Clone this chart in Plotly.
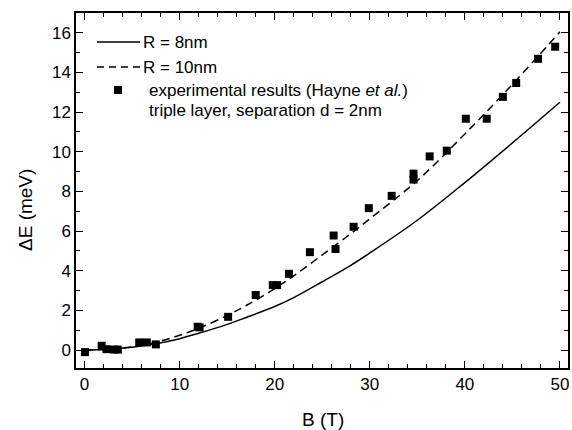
import plotly.graph_objects as go

# Experimental data (Hayne et al.)
b_exp = [0.05, 1.8, 2.3, 3.1, 3.5, 5.75, 6.55, 7.5, 11.9, 12.1, 15.1, 18.0, 19.8, 20.25, 21.5,
         23.7, 26.2, 26.4, 28.3, 29.9, 32.3, 34.6, 34.6, 36.3, 38.1, 40.1, 42.3, 44.0, 45.4, 47.7, 49.5]
e_exp = [-0.1, 0.22, 0.05, 0.03, 0.03, 0.39, 0.39, 0.29, 1.18, 1.15, 1.68, 2.78, 3.28, 3.28, 3.85,
         4.94, 5.78, 5.1, 6.22, 7.16, 7.78, 8.6, 8.9, 9.77, 10.06, 11.67, 11.67, 12.77, 13.47, 14.69, 15.3]

# Theory curves
b_th = [0, 2.5, 5, 7.5, 10, 12, 15, 17, 20, 22, 25, 28, 30, 35, 40, 45, 50]
e_r8 = [0, 0.05, 0.15, 0.32, 0.58, 0.85, 1.3, 1.65, 2.2, 2.65, 3.45, 4.28, 4.9, 6.55, 8.45, 10.45, 12.5]
e_r10 = [0, 0.05, 0.17, 0.4, 0.75, 1.1, 1.75, 2.25, 3.1, 3.75, 4.8, 5.87, 6.62, 8.55, 10.9, 13.4, 16.05]

x_ticks = [0, 10, 20, 30, 40, 50]
y_ticks = [0, 2, 4, 6, 8, 10, 12, 14, 16]

legend_labels = ["R = 8nm", "R = 10nm",
                 "experimental results (Hayne <i>et al.</i>)",
                 "triple layer, separation d = 2nm"]

FONT = "Liberation Sans, Arial, sans-serif"
W, H = 572, 430
ML, MR, MT, MB = 76, 4, 13, 62
PW, PH = W - ML - MR, H - MT - MB


def px(xp):
    return (xp - ML) / PW


def py(yp):
    return (H - MB - yp) / PH


fig = go.Figure()
fig.add_trace(go.Scatter(x=b_th, y=e_r8, mode="lines", name=legend_labels[0],
                         line=dict(color="black", width=1.5, shape="spline")))
fig.add_trace(go.Scatter(x=b_th, y=e_r10, mode="lines", name=legend_labels[1],
                         line=dict(color="black", width=1.5, dash="8px,5px", shape="spline")))
fig.add_trace(go.Scatter(x=b_exp, y=e_exp, mode="markers", name=legend_labels[2],
                         marker=dict(symbol="square", size=8, color="black",
                                     line=dict(width=0))))

axis_common = dict(
    showline=True, linecolor="black", linewidth=1.5, mirror="allticks",
    ticks="inside", ticklen=7, tickwidth=1.2, tickcolor="black",
    showgrid=False, zeroline=False, automargin=False,
    tickfont=dict(family=FONT, size=17, color="black"),
)

fig.update_xaxes(range=[-0.9, 50.85], tickvals=x_ticks,
                 minor=dict(ticks="inside", ticklen=4, dtick=2, tick0=0, tickcolor="black", tickwidth=1.2),
                 **axis_common)
fig.update_yaxes(range=[-0.9, 17.0], tickvals=y_ticks,
                 minor=dict(ticks="inside", ticklen=4, dtick=1, tick0=0, tickcolor="black", tickwidth=1.2),
                 **axis_common)

shapes = [
    dict(type="line", xref="paper", yref="paper", x0=px(97), x1=px(140), y0=py(42), y1=py(42),
         line=dict(color="black", width=1.5)),
    dict(type="line", xref="paper", yref="paper", x0=px(97), x1=px(140), y0=py(67), y1=py(67),
         line=dict(color="black", width=1.5, dash="7px,5px")),
    dict(type="rect", xref="paper", yref="paper", x0=px(114), x1=px(122), y0=py(94), y1=py(86),
         line=dict(width=0), fillcolor="black"),
]

ann_font = dict(family=FONT, size=17, color="black")
annotations = [
    dict(text=legend_labels[0], xref="paper", yref="paper", x=px(141), y=py(42),
         xanchor="left", yanchor="middle", showarrow=False, font=ann_font),
    dict(text=legend_labels[1], xref="paper", yref="paper", x=px(141), y=py(67),
         xanchor="left", yanchor="middle", showarrow=False, font=ann_font),
    dict(text=legend_labels[2], xref="paper", yref="paper", x=px(147), y=py(90),
         xanchor="left", yanchor="middle", showarrow=False, font=ann_font),
    dict(text=legend_labels[3], xref="paper", yref="paper", x=px(147), y=py(111),
         xanchor="left", yanchor="middle", showarrow=False, font=ann_font),
    dict(text="B (T)", xref="paper", yref="paper", x=px(323), y=py(419),
         xanchor="center", yanchor="middle", showarrow=False,
         font=dict(family=FONT, size=19, color="black")),
    dict(text="ΔE (meV)", xref="paper", yref="paper", x=px(26), y=py(210),
         xanchor="center", yanchor="middle", showarrow=False, textangle=-90,
         font=dict(family=FONT, size=19, color="black")),
]

fig.update_layout(
    width=W, height=H,
    margin=dict(l=ML, r=MR, t=MT, b=MB),
    paper_bgcolor="white", plot_bgcolor="white",
    font=dict(family=FONT, size=17, color="black"),
    showlegend=False,
    shapes=shapes,
    annotations=annotations,
)

fig.write_html("out.html",
               config={"displayModeBar": False},
               post_script="document.body.style.margin='0';document.body.style.padding='0';")
